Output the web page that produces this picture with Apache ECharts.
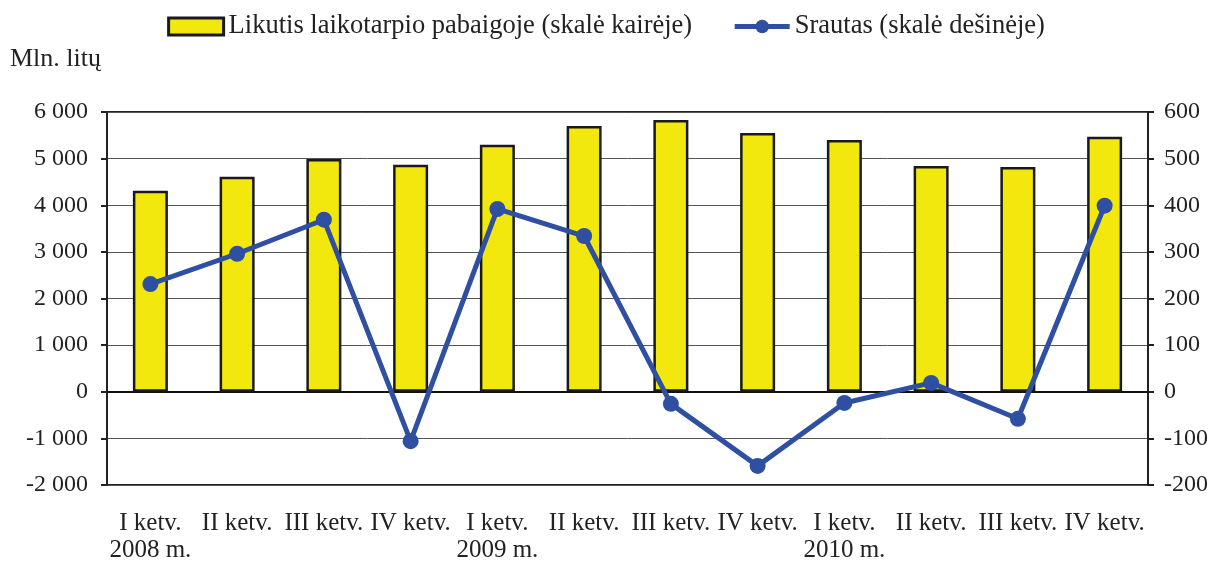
<!DOCTYPE html>
<html><head><meta charset="utf-8">
<script src="https://cdn.jsdelivr.net/npm/echarts@6/dist/echarts.min.js"></script>
<style>html,body{margin:0;padding:0;background:#fff}#c{width:1212px;height:561px}</style>
</head><body><div id="c"></div>
<script>
const categories = ['I ketv.\n2008 m.','II ketv.','III ketv.','IV ketv.','I ketv.\n2009 m.','II ketv.','III ketv.','IV ketv.','I ketv.\n2010 m.','II ketv.','III ketv.','IV ketv.'];
const balance = [4310, 4610, 4990, 4870, 5300, 5700, 5830, 5550, 5400, 4840, 4820, 5470];
const flow = [231, 296, 369, -106, 392, 334, -26, -159, -24, 19, -58, 399];
const leftTicks = {min: -2000, max: 6000, interval: 1000};
const rightTicks = {min: -200, max: 600, interval: 100};
const seriesNames = ['Likutis laikotarpio pabaigoje (skalė kairėje)', 'Srautas (skalė dešinėje)'];
const unitLabel = 'Mln. litų';

const font = 'Liberation Serif';
const chart = echarts.init(document.getElementById('c'), null, {renderer: 'canvas'});
function fmt(v){ const s = Math.abs(v).toString(); const r = s.length > 3 ? s.slice(0, s.length-3) + ' ' + s.slice(-3) : s; return (v < 0 ? '-' : '') + r; }
chart.setOption({
  animation: false,
  backgroundColor: '#fff',
  textStyle: {fontFamily: font},
  graphic: [{type: 'text', left: 10, top: 46, style: {text: unitLabel, font: '26px "Liberation Serif"', fill: '#222'}}],
  legend: {
    top: 8, left: 'center', itemGap: 40, itemWidth: 55, itemHeight: 17,
    textStyle: {fontFamily: font, fontSize: 26.5, color: '#222'},
    data: [
      {name: seriesNames[0], icon: 'rect', itemStyle: {color: '#F2E80E', borderColor: '#1a1a1a', borderWidth: 3}},
      {name: seriesNames[1], lineStyle: {width: 5, color: '#2E4FA2'}, itemStyle: {color: '#2E4FA2'}}
    ]
  },
  grid: {left: 107, right: 64, top: 112, bottom: 76, show: true, borderColor: '#222', borderWidth: 2, backgroundColor: 'transparent', outerBoundsMode: 'none', containLabel: false},
  xAxis: {
    type: 'category', data: categories,
    axisLine: {show: true, onZero: true, lineStyle: {color: '#111', width: 2}},
    axisTick: {show: false},
    axisLabel: {fontFamily: font, fontSize: 25, color: '#222', margin: 25, lineHeight: 27, interval: 0, verticalAlign: 'top'}
  },
  yAxis: [
    {type: 'value', min: leftTicks.min, max: leftTicks.max, interval: leftTicks.interval,
     axisLine: {show: true, lineStyle: {color: '#222', width: 2}},
     axisTick: {show: true, length: 6, lineStyle: {color: '#222', width: 2}},
     axisLabel: {fontFamily: font, fontSize: 24, color: '#222', margin: 19, formatter: fmt},
     splitLine: {show: true, lineStyle: {color: '#555', width: 1}}},
    {type: 'value', min: rightTicks.min, max: rightTicks.max, interval: rightTicks.interval, position: 'right',
     axisLine: {show: true, lineStyle: {color: '#222', width: 2}},
     axisTick: {show: true, length: 6, lineStyle: {color: '#222', width: 2}},
     axisLabel: {fontFamily: font, fontSize: 24, color: '#222', margin: 16, formatter: fmt},
     splitLine: {show: false}}
  ],
  series: [
    {name: seriesNames[0], type: 'bar', yAxisIndex: 0, data: balance, barWidth: 35,
     itemStyle: {color: '#F2E80E', borderColor: '#1a1a1a', borderWidth: 2.5}},
    {name: seriesNames[1], type: 'line', yAxisIndex: 1, data: flow,
     symbol: 'circle', symbolSize: 16,
     lineStyle: {color: '#2E4FA2', width: 5},
     itemStyle: {color: '#2E4FA2'}}
  ]
});
</script></body></html>
